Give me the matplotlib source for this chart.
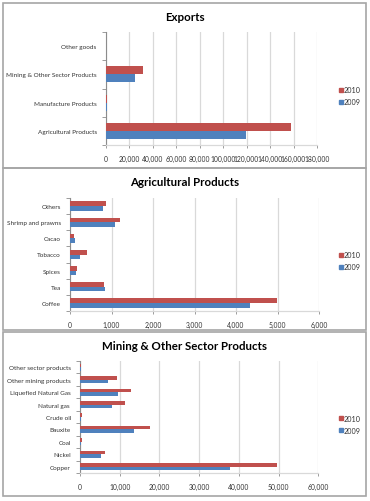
import matplotlib
matplotlib.use("Agg")
import matplotlib.pyplot as plt
from matplotlib.patches import Rectangle
import numpy as np

# ---------------- data ----------------
exp_cats = ["Agricultural Products", "Manufacture Products",
            "Mining & Other Sector Products", "Other goods"]
exp_2009 = [119300, 800, 25200, 0]
exp_2010 = [157900, 1200, 32000, 0]
exp_ticks = [0, 20000, 40000, 60000, 80000, 100000, 120000, 140000, 160000, 180000]

agr_cats = ["Coffee", "Tea", "Spices", "Tobacco", "Cacao",
            "Shrimp and prawns", "Others"]
agr_2009 = [4340, 840, 145, 250, 110, 1080, 795]
agr_2010 = [4990, 825, 160, 415, 90, 1195, 860]
agr_ticks = [0, 1000, 2000, 3000, 4000, 5000, 6000]

min_cats = ["Copper", "Nickel", "Coal", "Bauxite", "Crude oil", "Natural gas ",
            "Liquefied Natural Gas", "Other mining products", "Other sector products"]
min_2009 = [37700, 5400, 250, 13700, 150, 8000, 9650, 7150, 150]
min_2010 = [49700, 6300, 430, 17700, 400, 11250, 12900, 9300, 250]
min_ticks = [0, 10000, 20000, 30000, 40000, 50000, 60000]

titles = ["Exports", "Agricultural Products", "Mining & Other Sector Products"]
series_names = ["2009", "2010"]

# ---------------- style ----------------
W, H = 370, 502
C2009 = "#4F81BD"
C2010 = "#C0504D"
GRID = "#D9D9D9"
AXC = "#8C8C8C"
BORDER = "#A6A6A6"
FONT = ["Lato", "DejaVu Sans"]
plt.rcParams["font.family"] = FONT

fig = plt.figure(figsize=(W / 100, H / 100), dpi=100)
fig.patch.set_facecolor("white")


def frac_rect(x0, y0, x1, y1):
    return [x0 / W, 1 - y1 / H, (x1 - x0) / W, (y1 - y0) / H]


def box(x0, y0, x1, y1):
    fig.patches.append(Rectangle((x0 / W, 1 - y1 / H), (x1 - x0) / W, (y1 - y0) / H,
                                 transform=fig.transFigure, fill=False,
                                 edgecolor=BORDER, linewidth=1.2, zorder=0))


def chart(cats, v09, v10, ticks, title, plot_px, box_px, title_y, leg_y):
    box(*box_px)
    ax = fig.add_axes(frac_rect(*plot_px))
    n = len(cats)
    y = np.arange(n)
    h = 0.2857
    ax.barh(y - h / 2, v09, height=h, color=C2009, label=series_names[0], zorder=3)
    ax.barh(y + h / 2, v10, height=h, color=C2010, label=series_names[1], zorder=3)
    ax.set_ylim(-0.5, n - 0.5)
    ax.set_xlim(ticks[0], ticks[-1])
    ax.set_xticks(ticks)
    ax.set_xticklabels([f"{t:,}" for t in ticks], fontsize=4.9, color="#333333")
    ax.set_yticks(y)
    ax.set_yticklabels(cats, fontsize=4.6, color="#333333")
    ax.set_yticks(np.arange(-0.5, n, 1.0), minor=True)
    ax.tick_params(axis="y", which="major", length=0, pad=6.5)
    ax.tick_params(axis="y", which="minor", length=3, width=0.6, color=AXC, direction="out")
    ax.tick_params(axis="x", length=2.5, width=0.6, color=AXC, pad=5)
    ax.grid(axis="x", color=GRID, linewidth=0.9, zorder=0)
    for s in ["top", "right"]:
        ax.spines[s].set_visible(False)
    ax.spines["left"].set_color(AXC)
    ax.spines["left"].set_linewidth(0.8)
    ax.spines["bottom"].set_color(GRID)
    ax.spines["bottom"].set_linewidth(0.9)
    fig.text(((box_px[0] + box_px[2]) / 2) / W, 1 - title_y / H, title,
             ha="center", va="center", fontsize=8.3, fontweight="bold", color="black")
    # legend (2010 on top)
    lx = 338.5
    for name, col, yy in [(series_names[1], C2010, leg_y), (series_names[0], C2009, leg_y + 12)]:
        fig.patches.append(Rectangle((lx / W, 1 - (yy + 2) / H), 4 / W, 4 / H,
                                     transform=fig.transFigure, color=col))
        fig.text((lx + 5.5) / W, 1 - yy / H, name, ha="left", va="center",
                 fontsize=5.2, color="#333333")
    return ax


chart(exp_cats, exp_2009, exp_2010, exp_ticks, titles[0],
      (105.7, 33, 317, 146), (3, 4, 366, 169), 17.5, 90.7)
chart(agr_cats, agr_2009, agr_2010, agr_ticks, titles[1],
      (70, 199, 319, 312), (3, 169, 366, 331), 183, 255.7)
chart(min_cats, min_2009, min_2010, min_ticks, titles[2],
      (80, 362, 318.3, 474), (3, 333, 366, 497), 346.5, 419.3)

fig.savefig("out.png", dpi=100, facecolor="white")
